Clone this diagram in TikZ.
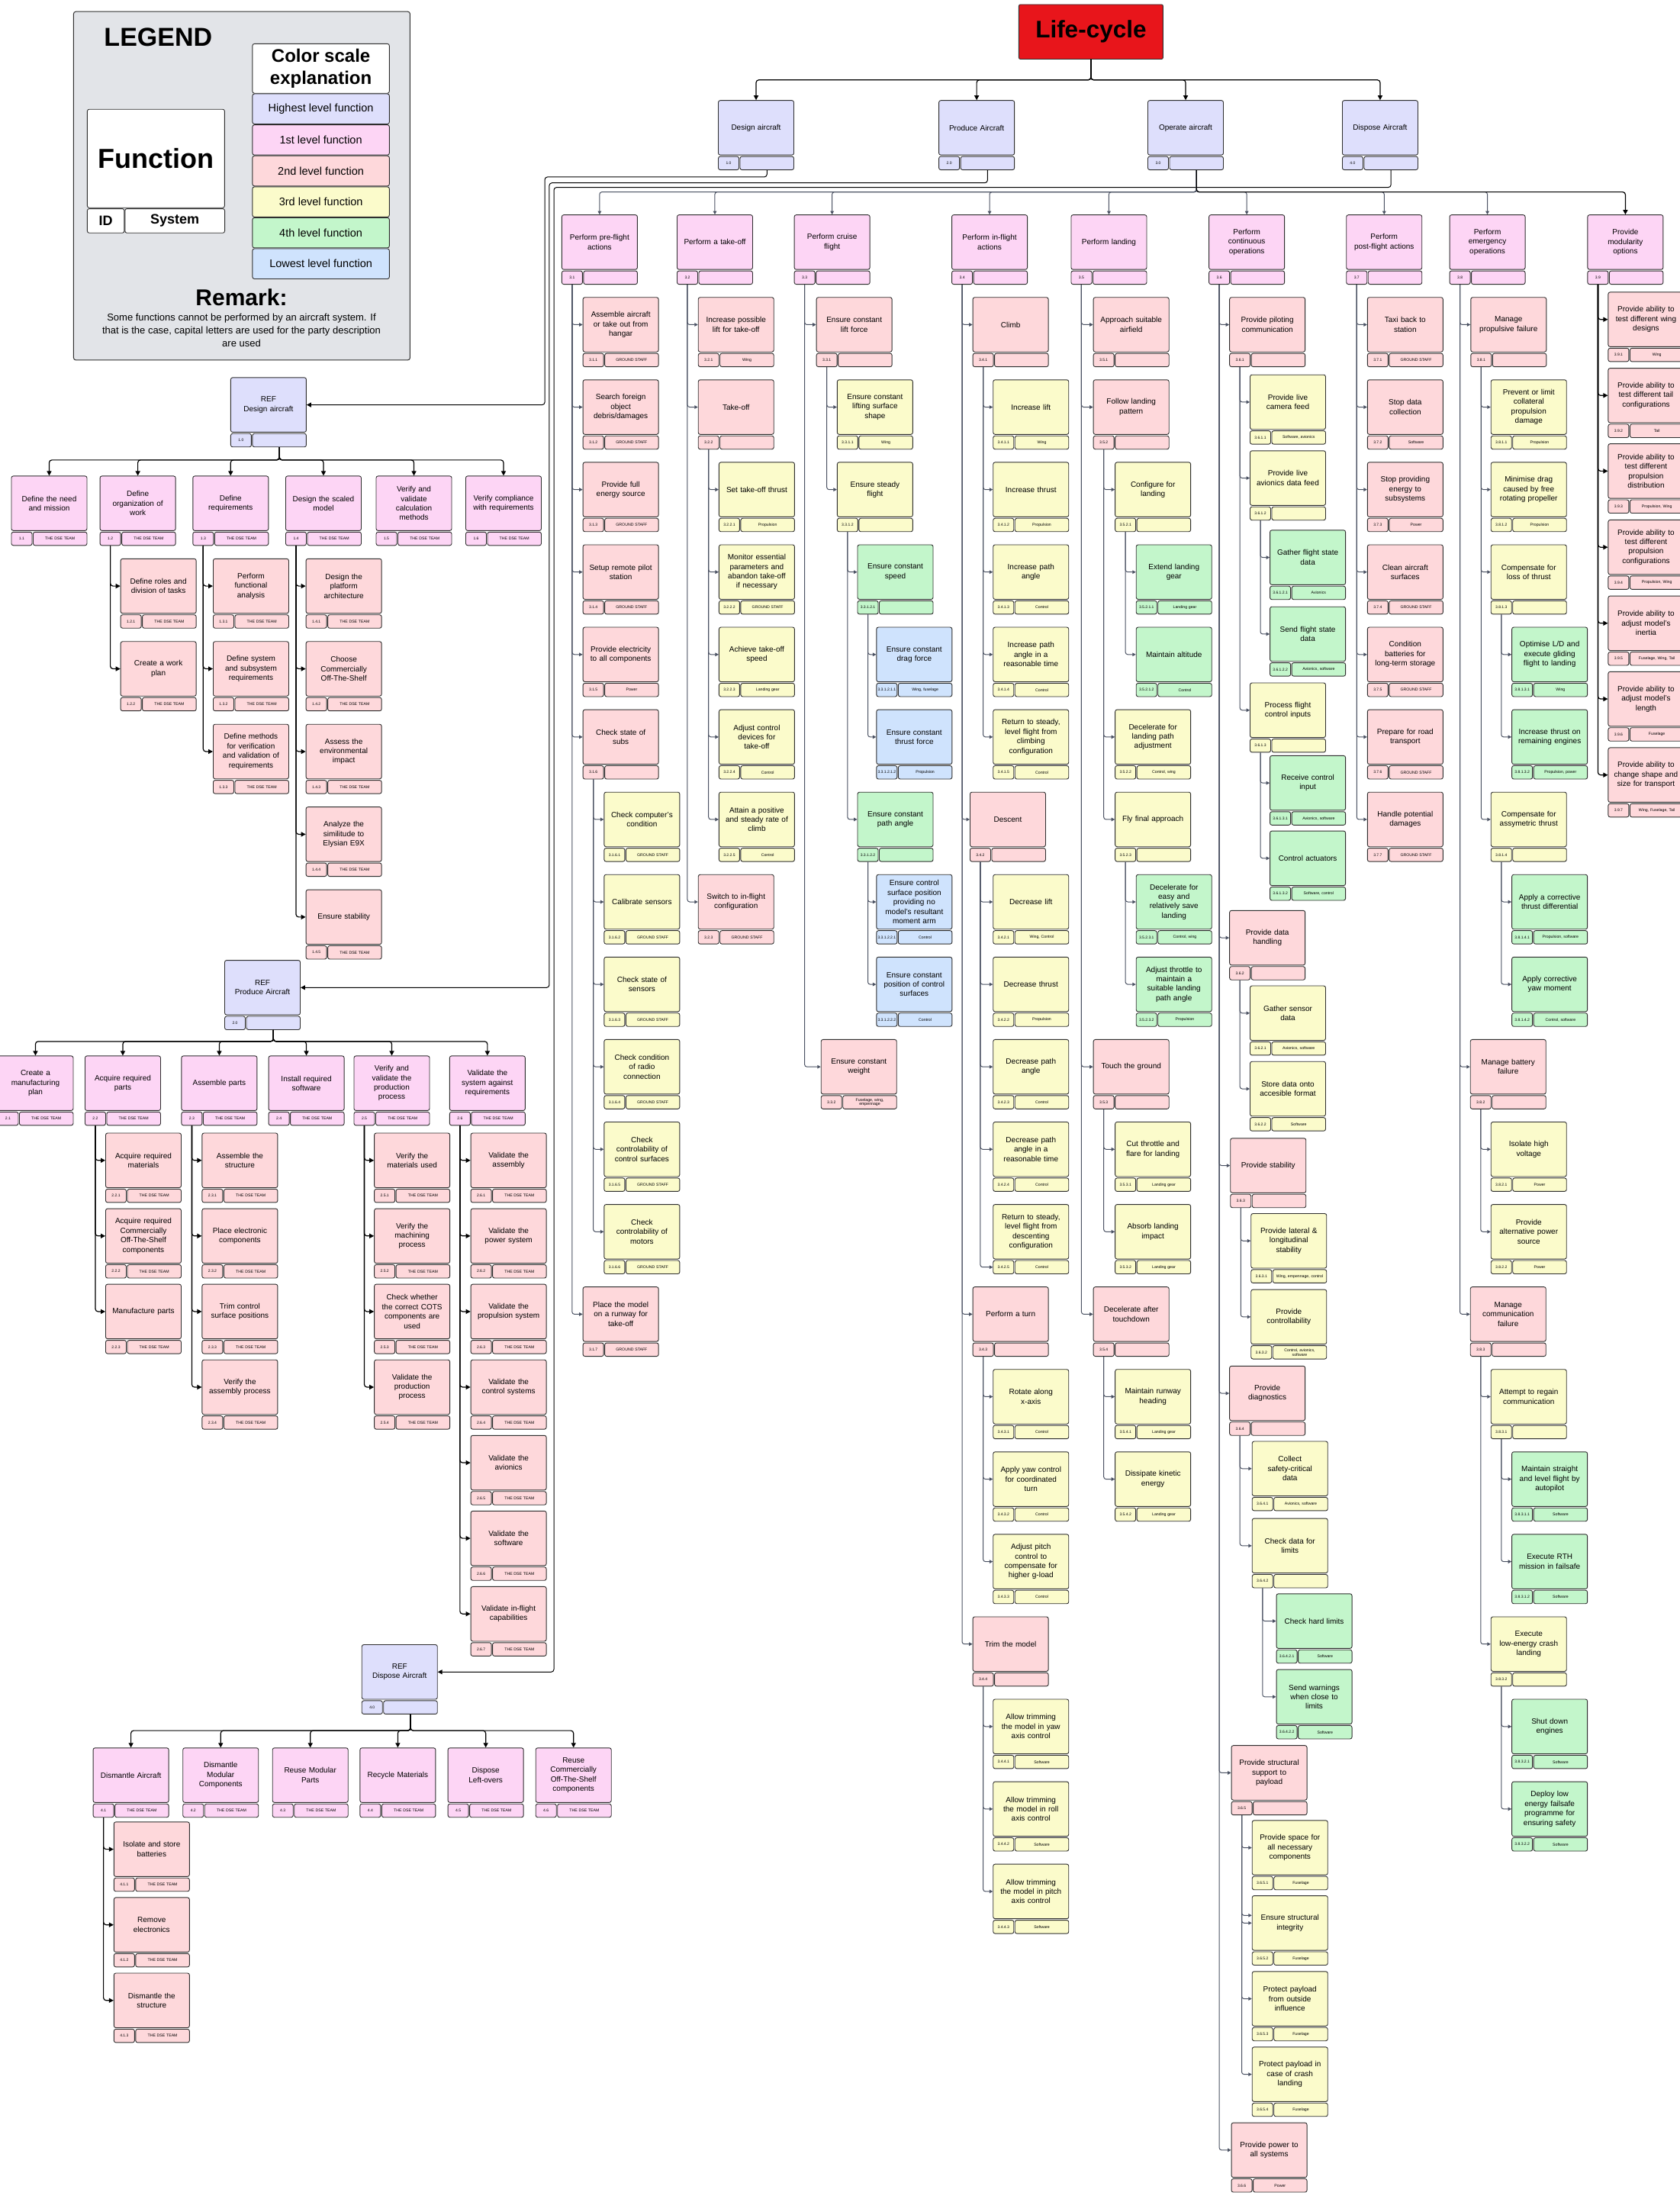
\documentclass[tikz,border=0pt]{standalone}
\usepackage{fontspec}
\setmainfont{Liberation Sans}
\usetikzlibrary{arrows.meta}
\definecolor{lav}{HTML}{DEDFFC}
\definecolor{pinkc}{HTML}{FDD5F5}
\definecolor{salm}{HTML}{FED8DB}
\definecolor{yel}{HTML}{FBFBCB}
\definecolor{grn}{HTML}{C3F6CB}
\definecolor{blu}{HTML}{CFE3FD}
\definecolor{legbg}{HTML}{E2E4E8}
\definecolor{lifered}{HTML}{E8151B}
\definecolor{bord}{HTML}{2E2E2E}
\definecolor{lineg}{HTML}{4B5263}
\tikzset{
 bx/.style={draw=bord, line width=0.9pt, rounded corners=2.5pt, inner sep=0pt},
 mainbox/.style={bx, minimum width=99pt, minimum height=71.5pt, text width=94pt, align=center, font=\fontsize{10}{12.4}\selectfont, anchor=north west},
 idcell/.style={bx, minimum width=27pt, minimum height=17.5pt, font=\fontsize{5}{6}\selectfont, anchor=north west},
 syscell/.style={bx, minimum width=70.5pt, minimum height=17.5pt, text width=68pt, align=center, font=\fontsize{5.2}{5.8}\selectfont, anchor=north east},
 gl/.style={draw=lineg, line width=1pt, rounded corners=3pt, -{Triangle[length=4.5pt,width=4.5pt]}},
 bl/.style={draw=black, line width=1.2pt, rounded corners=3.5pt, -{Triangle[length=6pt,width=6pt]}},
 legcell/.style={bx, minimum width=179.4pt, minimum height=39.5pt, anchor=north west, font=\fontsize{14.5}{16}\selectfont},
}
\newcommand\FNB[7]{%
 \node[mainbox,fill=#4] (#1) at (#2,#3) {#5};
 \node[idcell,fill=#4] (#1-id) at ([yshift=-1pt]#1.south west) {#6};
 \node[syscell,fill=#4] (#1-sys) at ([yshift=-1pt]#1.south east) {#7};}
\newcommand\CHG[2]{\draw[gl] (#1-id.south) |- (#2.west);}
\newcommand\CHB[2]{\draw[bl] (#1-id.south) |- (#2.west);}
\newcommand\BUSX[4]{\draw[#4] (#1-sys.south) -- (#1-sys.south |- 0,#3) -| (#2.north);}
\begin{document}
\begin{tikzpicture}[x=1.838pt,y=-1.838pt]
\useasboundingbox (0,0) rectangle (1198,1568);
\fill[white] (0,0) rectangle (1198,1568);

% ---------------- Legend ----------------
\node[bx, line width=1pt, fill=legbg, rounded corners=3pt, minimum width=441pt, minimum height=456.7pt, anchor=north west] (legend) at (52.2,8) {};
\node[font=\bfseries\fontsize{34}{40}\selectfont] (legt) at (112.8,26.5) {LEGEND};
\node[bx, fill=white, minimum width=180pt, minimum height=129pt, anchor=north west, font=\bfseries\fontsize{36}{40}\selectfont] (lfun) at (62,77.7) {Function};
\node[bx, fill=white, minimum width=48.5pt, minimum height=31.7pt, anchor=north west, font=\bfseries\fontsize{18}{20}\selectfont] (lid) at (62,148.6) {ID};
\node[bx, fill=white, minimum width=130.7pt, minimum height=31.7pt, anchor=north west, font=\bfseries\fontsize{18}{20}\selectfont] (lsys) at (88.9,148.6) {System};
\node[bx, fill=white, minimum width=179.4pt, minimum height=64.8pt, anchor=north west, align=center, font=\bfseries\fontsize{24}{29}\selectfont] (lcs) at (179.8,31) {Color scale\\explanation};
\node[legcell, fill=lav] (lc0) at (179.8,66.7) {Highest level function};
\node[legcell, fill=pinkc] (lc1) at (179.8,88.8) {1st level function};
\node[legcell, fill=salm] (lc2) at (179.8,110.9) {2nd level function};
\node[legcell, fill=yel] (lc3) at (179.8,133.0) {3rd level function};
\node[legcell, fill=grn] (lc4) at (179.8,155.0) {4th level function};
\node[legcell, fill=blu] (lc5) at (179.8,177.1) {Lowest level function};
\node[font=\bfseries\fontsize{30}{34}\selectfont] (rem) at (172.2,211.8) {Remark:};
\node[align=center, font=\fontsize{13}{17}\selectfont] (remt) at (172.2,235.3) {Some functions cannot be performed by an aircraft system. If\\that is the case, capital letters are used for the party description\\are used};

% ---------------- Top ----------------
\node[bx, fill=lifered, rounded corners=2pt, minimum width=189pt, minimum height=71.5pt, anchor=north west, font=\bfseries\fontsize{31.5}{36}\selectfont] (life) at (726.3,3) {Life-cycle};
\FNB{n10}{512}{71.4}{lav}{Design aircraft}{1.0}{}
\FNB{n20}{669.3}{71.4}{lav}{Produce Aircraft}{2.0}{}
\FNB{n30}{818.3}{71.4}{lav}{Operate aircraft}{3.0}{}
\FNB{n40}{957}{71.4}{lav}{Dispose Aircraft}{4.0}{}
\foreach \c in {n10,n20,n30,n40}{\draw[bl] (life.south) -- (life.south |- 0,57) -| (\c.north);}

% ---------------- REF boxes ----------------
\FNB{r10}{164.3}{269}{lav}{REF\\Design aircraft}{1.0}{}
\FNB{r20}{160}{684.5}{lav}{REF\\Produce Aircraft}{2.0}{}
\FNB{r40}{257.8}{1172.5}{lav}{REF\\Dispose Aircraft}{4.0}{}
\draw[bl, line width=1pt] (n10-sys.south) |- (388.5,126.2) |- (r10.east);
\draw[bl, line width=1pt] (n20-sys.south) |- (391.7,130.4) |- (r20.east);
\draw[bl, line width=1pt] (n40-sys.south) |- (395,133.6) |- (r40.east);

% ---------------- 1.x ----------------
\FNB{n11}{7.9}{339.2}{pinkc}{Define the need\\and mission}{1.1}{THE DSE TEAM}
\FNB{n12}{71.1}{339.2}{pinkc}{Define\\organization of\\work}{1.2}{THE DSE TEAM}
\FNB{n13}{137.3}{339.2}{pinkc}{Define\\requirements}{1.3}{THE DSE TEAM}
\FNB{n14}{203.5}{339.2}{pinkc}{Design the scaled\\model}{1.4}{THE DSE TEAM}
\FNB{n15}{268}{339.2}{pinkc}{Verify and\\validate\\calculation\\methods}{1.5}{THE DSE TEAM}
\FNB{n16}{331.9}{339.2}{pinkc}{Verify compliance\\with requirements}{1.6}{THE DSE TEAM}
\foreach \c in {n11,n12,n13,n14,n15,n16}{\BUSX{r10}{\c}{328}{bl}}
\FNB{n121}{85.8}{398.2}{salm}{Define roles and\\division of tasks}{1.2.1}{THE DSE TEAM}
\FNB{n122}{85.8}{457.2}{salm}{Create a work\\plan}{1.2.2}{THE DSE TEAM}
\FNB{n131}{151.8}{398.2}{salm}{Perform\\functional\\analysis}{1.3.1}{THE DSE TEAM}
\FNB{n132}{151.8}{457.2}{salm}{Define system\\and subsystem\\requirements}{1.3.2}{THE DSE TEAM}
\FNB{n133}{151.8}{516.2}{salm}{Define methods\\for verification\\and validation of\\requirements}{1.3.3}{THE DSE TEAM}
\FNB{n141}{218}{398.2}{salm}{Design the\\platform\\architecture}{1.4.1}{THE DSE TEAM}
\FNB{n142}{218}{457.2}{salm}{Choose\\Commercially\\Off-The-Shelf}{1.4.2}{THE DSE TEAM}
\FNB{n143}{218}{516.2}{salm}{Assess the\\environmental\\impact}{1.4.3}{THE DSE TEAM}
\FNB{n144}{218}{575.2}{salm}{Analyze the\\similitude to\\Elysian E9X}{1.4.4}{THE DSE TEAM}
\FNB{n145}{218}{634.2}{salm}{Ensure stability}{1.4.5}{THE DSE TEAM}
\CHB{n12}{n121}\CHB{n12}{n122}
\CHB{n13}{n131}\CHB{n13}{n132}\CHB{n13}{n133}
\CHB{n14}{n141}\CHB{n14}{n142}\CHB{n14}{n143}\CHB{n14}{n144}\CHB{n14}{n145}

% ---------------- 2.x ----------------
\FNB{n21}{-1.9}{752.7}{pinkc}{Create a\\manufacturing\\plan}{2.1}{THE DSE TEAM}
\FNB{n22}{60.4}{752.7}{pinkc}{Acquire required\\parts}{2.2}{THE DSE TEAM}
\FNB{n23}{129.2}{752.7}{pinkc}{Assemble parts}{2.3}{THE DSE TEAM}
\FNB{n24}{191.3}{752.7}{pinkc}{Install required\\software}{2.4}{THE DSE TEAM}
\FNB{n25}{252.2}{752.7}{pinkc}{Verify and\\validate the\\production\\process}{2.5}{THE DSE TEAM}
\FNB{n26}{320.4}{752.7}{pinkc}{Validate the\\system against\\requirements}{2.6}{THE DSE TEAM}
\foreach \c in {n21,n22,n23,n24,n25,n26}{\BUSX{r20}{\c}{742.6}{bl}}
\FNB{n221}{75.1}{807.7}{salm}{Acquire required\\materials}{2.2.1}{THE DSE TEAM}
\FNB{n222}{75.1}{861.6}{salm}{Acquire required\\Commercially\\Off-The-Shelf\\components}{2.2.2}{THE DSE TEAM}
\FNB{n223}{75.1}{915.5}{salm}{Manufacture parts}{2.2.3}{THE DSE TEAM}
\FNB{n231}{143.9}{807.7}{salm}{Assemble the\\structure}{2.3.1}{THE DSE TEAM}
\FNB{n232}{143.9}{861.6}{salm}{Place electronic\\components}{2.3.2}{THE DSE TEAM}
\FNB{n233}{143.9}{915.5}{salm}{Trim control\\surface positions}{2.3.3}{THE DSE TEAM}
\FNB{n234}{143.9}{969.4}{salm}{Verify the\\assembly process}{2.3.4}{THE DSE TEAM}
\FNB{n251}{266.7}{807.7}{salm}{Verify the\\materials used}{2.5.1}{THE DSE TEAM}
\FNB{n252}{266.7}{861.6}{salm}{Verify the\\machining\\process}{2.5.2}{THE DSE TEAM}
\FNB{n253}{266.7}{915.5}{salm}{Check whether\\the correct COTS\\components are\\used}{2.5.3}{THE DSE TEAM}
\FNB{n254}{266.7}{969.4}{salm}{Validate the\\production\\process}{2.5.4}{THE DSE TEAM}
\FNB{n261}{335.5}{807.7}{salm}{Validate the\\assembly}{2.6.1}{THE DSE TEAM}
\FNB{n262}{335.5}{861.6}{salm}{Validate the\\power system}{2.6.2}{THE DSE TEAM}
\FNB{n263}{335.5}{915.5}{salm}{Validate the\\propulsion system}{2.6.3}{THE DSE TEAM}
\FNB{n264}{335.5}{969.4}{salm}{Validate the\\control systems}{2.6.4}{THE DSE TEAM}
\FNB{n265}{335.5}{1023.3}{salm}{Validate the\\avionics}{2.6.5}{THE DSE TEAM}
\FNB{n266}{335.5}{1077.2}{salm}{Validate the\\software}{2.6.6}{THE DSE TEAM}
\FNB{n267}{335.5}{1131.1}{salm}{Validate in-flight\\capabilities}{2.6.7}{THE DSE TEAM}
\CHB{n22}{n221}\CHB{n22}{n222}\CHB{n22}{n223}
\CHB{n23}{n231}\CHB{n23}{n232}\CHB{n23}{n233}\CHB{n23}{n234}
\CHB{n25}{n251}\CHB{n25}{n252}\CHB{n25}{n253}\CHB{n25}{n254}
\CHB{n26}{n261}\CHB{n26}{n262}\CHB{n26}{n263}\CHB{n26}{n264}\CHB{n26}{n265}\CHB{n26}{n266}\CHB{n26}{n267}

% ---------------- 4.x ----------------
\FNB{n41}{66.2}{1246.1}{pinkc}{Dismantle Aircraft}{4.1}{THE DSE TEAM}
\FNB{n42}{130.2}{1246.1}{pinkc}{Dismantle\\Modular\\Components}{4.2}{THE DSE TEAM}
\FNB{n43}{194.1}{1246.1}{pinkc}{Reuse Modular\\Parts}{4.3}{THE DSE TEAM}
\FNB{n44}{256.5}{1246.1}{pinkc}{Recycle Materials}{4.4}{THE DSE TEAM}
\FNB{n45}{319.2}{1246.1}{pinkc}{Dispose\\Left-overs}{4.5}{THE DSE TEAM}
\FNB{n46}{381.8}{1246.1}{pinkc}{Reuse\\Commercially\\Off-The-Shelf\\components}{4.6}{THE DSE TEAM}
\foreach \c in {n41,n42,n43,n44,n45,n46}{\BUSX{r40}{\c}{1234}{bl}}
\FNB{n411}{81}{1298.9}{salm}{Isolate and store\\batteries}{4.1.1}{THE DSE TEAM}
\FNB{n412}{81}{1352.8}{salm}{Remove\\electronics}{4.1.2}{THE DSE TEAM}
\FNB{n413}{81}{1406.7}{salm}{Dismantle the\\structure}{4.1.3}{THE DSE TEAM}
\CHB{n41}{n411}\CHB{n41}{n412}\CHB{n41}{n413}

% ---------------- 3.x parents ----------------
\FNB{n31}{400.4}{153}{pinkc}{Perform pre-flight\\actions}{3.1}{}
\FNB{n32}{482.6}{153}{pinkc}{Perform a take-off}{3.2}{}
\FNB{n33}{566.2}{153}{pinkc}{Perform cruise\\flight}{3.3}{}
\FNB{n34}{678.5}{153}{pinkc}{Perform in-flight\\actions}{3.4}{}
\FNB{n35}{763.6}{153}{pinkc}{Perform landing}{3.5}{}
\FNB{n36}{861.9}{153}{pinkc}{Perform\\continuous\\operations}{3.6}{}
\FNB{n37}{959.9}{153}{pinkc}{Perform\\post-flight actions}{3.7}{}
\FNB{n38}{1033.5}{153}{pinkc}{Perform\\emergency\\operations}{3.8}{}
\FNB{n39}{1131.9}{153}{pinkc}{Provide\\modularity\\options}{3.9}{}
\foreach \c in {n31,n32,n33,n34,n35,n36,n37,n38}{\BUSX{n30}{\c}{136.9}{gl}}
\BUSX{n30}{n39}{136.9}{bl}

% ---------------- 3.1 ----------------
\FNB{n311}{415.5}{211.8}{salm}{Assemble aircraft\\or take out from\\hangar}{3.1.1}{GROUND STAFF}
\FNB{n312}{415.5}{270.6}{salm}{Search foreign\\object\\debris/damages}{3.1.2}{GROUND STAFF}
\FNB{n313}{415.5}{329.4}{salm}{Provide full\\energy source}{3.1.3}{GROUND STAFF}
\FNB{n314}{415.5}{388.2}{salm}{Setup remote pilot\\station}{3.1.4}{GROUND STAFF}
\FNB{n315}{415.5}{447}{salm}{Provide electricity\\to all components}{3.1.5}{Power}
\FNB{n316}{415.5}{505.8}{salm}{Check state of\\subs}{3.1.6}{}
\FNB{n3161}{430.6}{564.6}{yel}{Check computer's\\condition}{3.1.6.1}{GROUND STAFF}
\FNB{n3162}{430.6}{623.4}{yel}{Calibrate sensors}{3.1.6.2}{GROUND STAFF}
\FNB{n3163}{430.6}{682.2}{yel}{Check state of\\sensors}{3.1.6.3}{GROUND STAFF}
\FNB{n3164}{430.6}{741}{yel}{Check condition\\of radio\\connection}{3.1.6.4}{GROUND STAFF}
\FNB{n3165}{430.6}{799.8}{yel}{Check\\controlability of\\control surfaces}{3.1.6.5}{GROUND STAFF}
\FNB{n3166}{430.6}{858.6}{yel}{Check\\controlability of\\motors}{3.1.6.6}{GROUND STAFF}
\FNB{n317}{415.5}{917.4}{salm}{Place the model\\on a runway for\\take-off}{3.1.7}{GROUND STAFF}
\foreach \c in {n311,n312,n313,n314,n315,n316,n317}{\CHG{n31}{\c}}
\foreach \c in {n3161,n3162,n3163,n3164,n3165,n3166}{\CHG{n316}{\c}}

% ---------------- 3.2 ----------------
\FNB{n321}{497.7}{211.8}{salm}{Increase possible\\lift for take-off}{3.2.1}{Wing}
\FNB{n322}{497.7}{270.6}{salm}{Take-off}{3.2.2}{}
\FNB{n3221}{512.5}{329.4}{yel}{Set take-off thrust}{3.2.2.1}{Propulsion}
\FNB{n3222}{512.5}{388.2}{yel}{Monitor essential\\parameters and\\abandon take-off\\if necessary}{3.2.2.2}{GROUND STAFF}
\FNB{n3223}{512.5}{447}{yel}{Achieve take-off\\speed}{3.2.2.3}{Landing gear}
\FNB{n3224}{512.5}{505.8}{yel}{Adjust control\\devices for\\take-off}{3.2.2.4}{Control}
\FNB{n3225}{512.5}{564.6}{yel}{Attain a positive\\and steady rate of\\climb}{3.2.2.5}{Control}
\FNB{n323}{497.7}{623.4}{salm}{Switch to in-flight\\configuration}{3.2.3}{GROUND STAFF}
\foreach \c in {n321,n322,n323}{\CHG{n32}{\c}}
\foreach \c in {n3221,n3222,n3223,n3224,n3225}{\CHG{n322}{\c}}

% ---------------- 3.3 ----------------
\FNB{n331}{582}{211.8}{salm}{Ensure constant\\lift force}{3.3.1}{}
\FNB{n3311}{596.8}{270.6}{yel}{Ensure constant\\lifting surface\\shape}{3.3.1.1}{Wing}
\FNB{n3312}{596.8}{329.4}{yel}{Ensure steady\\flight}{3.3.1.2}{}
\FNB{n33121}{611.3}{388.2}{grn}{Ensure constant\\speed}{3.3.1.2.1}{}
\FNB{n331211}{624.8}{447}{blu}{Ensure constant\\drag force}{3.3.1.2.1.1}{Wing, fuselage}
\FNB{n331212}{624.8}{505.8}{blu}{Ensure constant\\thrust force}{3.3.1.2.1.2}{Propulsion}
\FNB{n33122}{611.3}{564.6}{grn}{Ensure constant\\path angle}{3.3.1.2.2}{}
\FNB{n331221}{624.8}{623.4}{blu}{Ensure control\\surface position\\providing no\\model's resultant\\moment arm}{3.3.1.2.2.1}{Control}
\FNB{n331222}{624.8}{682.2}{blu}{Ensure constant\\position of control\\surfaces}{3.3.1.2.2.2}{Control}
\FNB{n332}{585.3}{741}{salm}{Ensure constant\\weight}{3.3.2}{Fuselage, wing,\\empennage}
\CHG{n33}{n331}\CHG{n33}{n332}
\CHG{n331}{n3311}\CHG{n331}{n3312}
\CHG{n3312}{n33121}\CHG{n3312}{n33122}
\CHG{n33121}{n331211}\CHG{n33121}{n331212}
\CHG{n33122}{n331221}\CHG{n33122}{n331222}

% ---------------- 3.4 ----------------
\FNB{n341}{693.5}{211.8}{salm}{Climb}{3.4.1}{}
\FNB{n3411}{708}{270.6}{yel}{Increase lift}{3.4.1.1}{Wing}
\FNB{n3412}{708}{329.4}{yel}{Increase thrust}{3.4.1.2}{Propulsion}
\FNB{n3413}{708}{388.2}{yel}{Increase path\\angle}{3.4.1.3}{Control}
\FNB{n3414}{708}{447}{yel}{Increase path\\angle in a\\reasonable time}{3.4.1.4}{Control}
\FNB{n3415}{708}{505.8}{yel}{Return to steady,\\level flight from\\climbing\\configuration}{3.4.1.5}{Control}
\FNB{n342}{691.5}{564.6}{salm}{Descent}{3.4.2}{}
\FNB{n3421}{708}{623.4}{yel}{Decrease lift}{3.4.2.1}{Wing, Control}
\FNB{n3422}{708}{682.2}{yel}{Decrease thrust}{3.4.2.2}{Propulsion}
\FNB{n3423}{708}{741}{yel}{Decrease path\\angle}{3.4.2.3}{Control}
\FNB{n3424}{708}{799.8}{yel}{Decrease path\\angle in a\\reasonable time}{3.4.2.4}{Control}
\FNB{n3425}{708}{858.6}{yel}{Return to steady,\\level flight from\\descenting\\configuration}{3.4.2.5}{Control}
\FNB{n343}{693.5}{917.4}{salm}{Perform a turn}{3.4.3}{}
\FNB{n3431}{708}{976.2}{yel}{Rotate along\\x-axis}{3.4.3.1}{Control}
\FNB{n3432}{708}{1035}{yel}{Apply yaw control\\for coordinated\\turn}{3.4.3.2}{Control}
\FNB{n3433}{708}{1093.8}{yel}{Adjust pitch\\control to\\compensate for\\higher g-load}{3.4.3.3}{Control}
\FNB{n344}{693.5}{1152.6}{salm}{Trim the model}{3.4.4}{}
\FNB{n3441}{708}{1211.4}{yel}{Allow trimming\\the model in yaw\\axis control}{3.4.4.1}{Software}
\FNB{n3442}{708}{1270.2}{yel}{Allow trimming\\the model in roll\\axis control}{3.4.4.2}{Software}
\FNB{n3443}{708}{1329}{yel}{Allow trimming\\the model in pitch\\axis control}{3.4.4.3}{Software}
\foreach \c in {n341,n342,n343,n344}{\CHG{n34}{\c}}
\foreach \c in {n3411,n3412,n3413,n3414,n3415}{\CHG{n341}{\c}}
\foreach \c in {n3421,n3422,n3423,n3424}{\CHG{n342}{\c}}
\draw[gl] (n342-id.south) |- (n3425-id.west);
\foreach \c in {n3431,n3432,n3433}{\CHG{n343}{\c}}
\foreach \c in {n3441,n3442,n3443}{\CHG{n344}{\c}}

% ---------------- 3.5 ----------------
\FNB{n351}{779.5}{211.8}{salm}{Approach suitable\\airfield}{3.5.1}{}
\FNB{n352}{779.5}{270.6}{salm}{Follow landing\\pattern}{3.5.2}{}
\FNB{n3521}{795}{329.4}{yel}{Configure for\\landing}{3.5.2.1}{}
\FNB{n35211}{810}{388.2}{grn}{Extend landing\\gear}{3.5.2.1.1}{Landing gear}
\FNB{n35212}{810}{447}{grn}{Maintain altitude}{3.5.2.1.2}{Control}
\FNB{n3522}{795}{505.8}{yel}{Decelerate for\\landing path\\adjustment}{3.5.2.2}{Control, wing}
\FNB{n3523}{795}{564.6}{yel}{Fly final approach}{3.5.2.3}{}
\FNB{n35231}{810}{623.4}{grn}{Decelerate for\\easy and\\relatively save\\landing}{3.5.2.3.1}{Control, wing}
\FNB{n35232}{810}{682.2}{grn}{Adjust throttle to\\maintain a\\suitable landing\\path angle}{3.5.2.3.2}{Propulsion}
\FNB{n353}{779.5}{741}{salm}{Touch the ground}{3.5.3}{}
\FNB{n3531}{795}{799.8}{yel}{Cut throttle and\\flare for landing}{3.5.3.1}{Landing gear}
\FNB{n3532}{795}{858.6}{yel}{Absorb landing\\impact}{3.5.3.2}{Landing gear}
\FNB{n354}{779.5}{917.4}{salm}{Decelerate after\\touchdown}{3.5.4}{}
\FNB{n3541}{795}{976.2}{yel}{Maintain runway\\heading}{3.5.4.1}{Landing gear}
\FNB{n3542}{795}{1035}{yel}{Dissipate kinetic\\energy}{3.5.4.2}{Landing gear}
\foreach \c in {n351,n352,n353,n354}{\CHG{n35}{\c}}
\foreach \c in {n3521,n3522,n3523}{\CHG{n352}{\c}}
\CHG{n3521}{n35211}\CHG{n3521}{n35212}
\CHG{n3523}{n35231}\CHG{n3523}{n35232}
\CHG{n353}{n3531}\CHG{n353}{n3532}
\CHG{n354}{n3541}\CHG{n354}{n3542}

% ---------------- 3.6 ----------------
\FNB{n361}{876.6}{211.8}{salm}{Provide piloting\\communication}{3.6.1}{}
\FNB{n3611}{891.2}{267}{yel}{Provide live\\camera feed}{3.6.1.1}{Software, avionics}
\FNB{n3612}{891.2}{321.2}{yel}{Provide live\\avionics data feed}{3.6.1.2}{}
\FNB{n36121}{905.4}{377.8}{grn}{Gather flight state\\data}{3.6.1.2.1}{Avionics}
\FNB{n36122}{905.4}{432.4}{grn}{Send flight state\\data}{3.6.1.2.2}{Avionics, software}
\FNB{n3613}{891.2}{486.7}{yel}{Process flight\\control inputs}{3.6.1.3}{}
\FNB{n36131}{905.4}{538.6}{grn}{Receive control\\input}{3.6.1.3.1}{Avionics, software}
\FNB{n36132}{905.4}{592.3}{grn}{Control actuators}{3.6.1.3.2}{Software, control}
\FNB{n362}{876.6}{649}{salm}{Provide data\\handling}{3.6.2}{}
\FNB{n3621}{891.2}{702.7}{yel}{Gather sensor\\data}{3.6.2.1}{Avionics, software}
\FNB{n3622}{891.2}{756.7}{yel}{Store data onto\\accesible format}{3.6.2.2}{Software}
\FNB{n363}{877.2}{811.4}{salm}{Provide stability}{3.6.3}{}
\FNB{n3631}{891.9}{865.1}{yel}{Provide lateral \&\\longitudinal\\stability}{3.6.3.1}{Wing, empennage, control}
\FNB{n3632}{891.9}{919.3}{yel}{Provide\\controllability}{3.6.3.2}{Control, avionics,\\software}
\FNB{n364}{876.6}{973.8}{salm}{Provide\\diagnostics}{3.6.4}{}
\FNB{n3641}{892.7}{1027.5}{yel}{Collect\\safety-critical\\data}{3.6.4.1}{Avionics, software}
\FNB{n3642}{892.7}{1082.5}{yel}{Check data for\\limits}{3.6.4.2}{}
\FNB{n36421}{910}{1136.2}{grn}{Check hard limits}{3.6.4.2.1}{Software}
\FNB{n36422}{910}{1190.2}{grn}{Send warnings\\when close to\\limits}{3.6.4.2.2}{Software}
\FNB{n365}{877.9}{1244.4}{salm}{Provide structural\\support to\\payload}{3.6.5}{}
\FNB{n3651}{892.7}{1297.8}{yel}{Provide space for\\all necessary\\components}{3.6.5.1}{Fuselage}
\FNB{n3652}{892.7}{1351.5}{yel}{Ensure structural\\integrity}{3.6.5.2}{Fuselage}
\FNB{n3653}{892.7}{1405.5}{yel}{Protect payload\\from outside\\influence}{3.6.5.3}{Fuselage}
\FNB{n3654}{892.7}{1459.4}{yel}{Protect payload in\\case of crash\\landing}{3.6.5.4}{Fuselage}
\FNB{n366}{877.9}{1513.4}{salm}{Provide power to\\all systems}{3.6.6}{Power}
\foreach \c in {n361,n362,n363,n364,n365,n366}{\CHG{n36}{\c}}
\foreach \c in {n3611,n3612,n3613}{\CHG{n361}{\c}}
\CHG{n3612}{n36121}\CHG{n3612}{n36122}
\CHG{n3613}{n36131}\CHG{n3613}{n36132}
\CHG{n362}{n3621}\CHG{n362}{n3622}
\CHG{n363}{n3631}\CHG{n363}{n3632}
\CHG{n364}{n3641}\CHG{n364}{n3642}
\CHG{n3642}{n36421}\CHG{n3642}{n36422}
\foreach \c in {n3651,n3652,n3653,n3654}{\CHG{n365}{\c}}
\draw[gl] (n365-id.south) |- ([yshift=10pt]n3652.west);

% ---------------- 3.7 ----------------
\FNB{n371}{974.9}{211.8}{salm}{Taxi back to\\station}{3.7.1}{GROUND STAFF}
\FNB{n372}{974.9}{270.6}{salm}{Stop data\\collection}{3.7.2}{Software}
\FNB{n373}{974.9}{329.4}{salm}{Stop providing\\energy to\\subsystems}{3.7.3}{Power}
\FNB{n374}{974.9}{388.2}{salm}{Clean aircraft\\surfaces}{3.7.4}{GROUND STAFF}
\FNB{n375}{974.9}{447}{salm}{Condition\\batteries for\\long-term storage}{3.7.5}{GROUND STAFF}
\FNB{n376}{974.9}{505.8}{salm}{Prepare for road\\transport}{3.7.6}{GROUND STAFF}
\FNB{n377}{974.9}{564.6}{salm}{Handle potential\\damages}{3.7.7}{GROUND STAFF}
\foreach \c in {n371,n372,n373,n374,n375,n376,n377}{\CHG{n37}{\c}}

% ---------------- 3.8 ----------------
\FNB{n381}{1048.6}{211.8}{salm}{Manage\\propulsive failure}{3.8.1}{}
\FNB{n3811}{1063}{270.6}{yel}{Prevent or limit\\collateral\\propulsion\\damage}{3.8.1.1}{Propulsion}
\FNB{n3812}{1063}{329.4}{yel}{Minimise drag\\caused by free\\rotating propeller}{3.8.1.2}{Propulsion}
\FNB{n3813}{1063}{388.2}{yel}{Compensate for\\loss of thrust}{3.8.1.3}{}
\FNB{n38131}{1077.9}{447}{grn}{Optimise L/D and\\execute gliding\\flight to landing}{3.8.1.3.1}{Wing}
\FNB{n38132}{1077.9}{505.8}{grn}{Increase thrust on\\remaining engines}{3.8.1.3.2}{Propulsion, power}
\FNB{n3814}{1063}{564.6}{yel}{Compensate for\\assymetric thrust}{3.8.1.4}{}
\FNB{n38141}{1077.9}{623.4}{grn}{Apply a corrective\\thrust differential}{3.8.1.4.1}{Propulsion, software}
\FNB{n38142}{1077.9}{682.2}{grn}{Apply corrective\\yaw moment}{3.8.1.4.2}{Control, software}
\FNB{n382}{1048.3}{741}{salm}{Manage battery\\failure}{3.8.2}{}
\FNB{n3821}{1063}{799.8}{yel}{Isolate high\\voltage}{3.8.2.1}{Power}
\FNB{n3822}{1063}{858.6}{yel}{Provide\\alternative power\\source}{3.8.2.2}{Power}
\FNB{n383}{1048.3}{917.4}{salm}{Manage\\communication\\failure}{3.8.3}{}
\FNB{n3831}{1063}{976.2}{yel}{Attempt to regain\\communication}{3.8.3.1}{}
\FNB{n38311}{1077.9}{1035}{grn}{Maintain straight\\and level flight by\\autopilot}{3.8.3.1.1}{Software}
\FNB{n38312}{1077.9}{1093.8}{grn}{Execute RTH\\mission in failsafe}{3.8.3.1.2}{Software}
\FNB{n3832}{1063}{1152.6}{yel}{Execute\\low-energy crash\\landing}{3.8.3.2}{}
\FNB{n38321}{1077.9}{1211.4}{grn}{Shut down\\engines}{3.8.3.2.1}{Software}
\FNB{n38322}{1077.9}{1270.2}{grn}{Deploy low\\energy failsafe\\programme for\\ensuring safety}{3.8.3.2.2}{Software}
\foreach \c in {n381,n382,n383}{\CHG{n38}{\c}}
\foreach \c in {n3811,n3812,n3813,n3814}{\CHG{n381}{\c}}
\CHG{n3813}{n38131}\CHG{n3813}{n38132}
\CHG{n3814}{n38141}\CHG{n3814}{n38142}
\CHG{n382}{n3821}\CHG{n382}{n3822}
\CHG{n383}{n3831}\CHG{n383}{n3832}
\CHG{n3831}{n38311}\CHG{n3831}{n38312}
\CHG{n3832}{n38321}\CHG{n3832}{n38322}

% ---------------- 3.9 ----------------
\FNB{n391}{1146.6}{208.1}{salm}{Provide ability to\\test different wing\\designs}{3.9.1}{Wing}
\FNB{n392}{1146.6}{262.3}{salm}{Provide ability to\\test different tail\\configurations}{3.9.2}{Tail}
\FNB{n393}{1146.6}{316.2}{salm}{Provide ability to\\test different\\propulsion\\distribution}{3.9.3}{Propulsion, Wing}
\FNB{n394}{1146.6}{370.5}{salm}{Provide ability to\\test different\\propulsion\\configurations}{3.9.4}{Propulsion, Wing}
\FNB{n395}{1146.6}{424.7}{salm}{Provide ability to\\adjust model's\\inertia}{3.9.5}{Fuselage, Wing, Tail}
\FNB{n396}{1146.6}{478.7}{salm}{Provide ability to\\adjust model's\\length}{3.9.6}{Fuselage}
\FNB{n397}{1146.6}{532.9}{salm}{Provide ability to\\change shape and\\size for transport}{3.9.7}{Wing, Fuselage, Tail}
\foreach \c in {n391,n392,n393,n394,n395,n396,n397}{\CHB{n39}{\c}}
\end{tikzpicture}
\end{document}
